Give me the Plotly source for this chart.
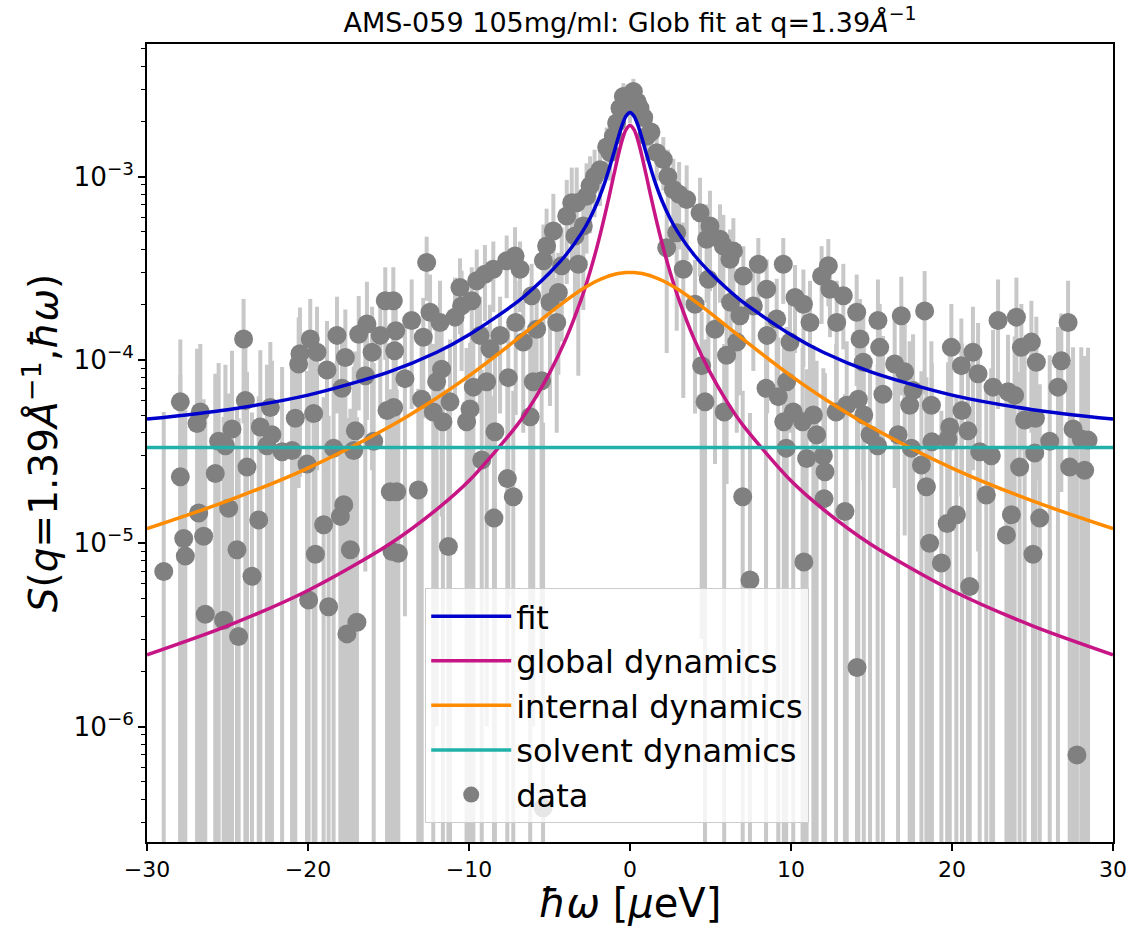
import plotly.graph_objects as go

# ---------------- data points (ħω in μeV, S in arbitrary units) ----------------
hw = [
    # ħω from -30 to -14.8
    -28.96, -27.93, -27.93, -27.72, -27.62, -26.79, -26.69, -26.89, -26.48, -26.38,
    -25.76, -25.55, -25.24, -25.13, -24.93, -24.72, -24.41, -24.31, -24.00, -23.89,
    -23.79, -23.48, -23.06, -22.96, -22.55, -22.34, -22.24, -21.61, -20.99, -20.79,
    -20.58, -20.50, -20.06, -19.96, -19.86, -19.65, -19.54, -19.44, -19.03, -18.82,
    -18.72, -18.41, -18.20, -17.99, -17.89, -17.78, -17.68, -17.58, -17.37, -17.16,
    -17.06, -16.96, -16.85, -16.44, -16.34, -16.02, -15.92, -15.51, -15.20, -15.09,
    -14.89, -14.78,
    # ħω from -14.8 to -2.9
    -14.70, -14.55, -14.62, -14.68, -14.49, -14.39, -13.98, -13.56, -13.15, -12.94,
    -12.84, -12.63, -12.42, -12.22, -12.01, -11.80, -11.70, -11.62, -11.28, -11.18,
    -10.87, -10.56, -10.46, -10.15, -9.94, -9.83, -9.73, -9.52, -9.32, -9.21,
    -9.01, -8.90, -8.70, -8.49, -8.45, -8.39, -8.07, -7.66, -7.62, -7.56,
    -7.25, -7.14, -7.10, -6.83, -6.63, -6.20, -6.11, -6.01, -5.80, -5.49,
    -5.38, -5.18, -4.97, -4.76, -4.55, -4.45, -4.24, -3.93, -3.62, -3.42,
    -3.21, -2.90,
    # elastic peak
    0.21, -0.41, 0.62, -0.62, -0.83, 1.04, -1.03, -1.24, 1.66, -1.86,
    2.07, -2.48, 2.69, -3.31, 3.52, 4.35, 4.97, 5.59, 6.42, -0.15,
    0.45, -1.45, 1.30, -2.20, 2.35, 3.05, -2.70, 0.00, 0.85,
    # ħω from 2.3 to 15
    2.28, 2.90, 4.76, 5.80, 3.31, 4.87, 6.21, 7.97, 9.52, 7.04,
    8.49, 4.04, 6.25, 5.28, 6.83, 7.66, 9.11, 10.25, 10.77, 11.18,
    11.90, 12.32, 12.42, 12.84, 13.25, 14.08, 14.29, 14.49, 6.00, 6.63,
    4.45, 4.66, 5.85, 8.45, 9.21, 9.73, 9.55, 10.14, 10.72, 11.39,
    11.59, 9.70, 10.97, 12.01, 12.11, 12.80, 13.46, 14.18, 14.52, 14.91,
    7.00, 12.05, 13.35, 10.80, 9.94, 8.52,
    # ħω from 15 to 30
    15.40, 15.51, 15.71, 15.38, 16.44, 16.85, 17.06, 16.65, 17.37, 17.58,
    17.48, 18.10, 18.30, 18.41, 18.61, 18.72, 18.75, 19.34, 19.86, 19.75,
    19.96, 19.70, 20.27, 20.58, 20.62, 20.99, 21.10, 21.30, 21.62, 21.72,
    22.13, 22.44, 22.55, 22.86, 23.38, 23.48, 23.69, 23.89, 24.00, 24.20,
    24.31, 24.51, 24.93, 25.14, 25.18, 25.24, 25.03, 25.45, 26.07, 26.58,
    26.79, 27.21, 27.31, 27.52, 28.03, 28.24, 28.45,
    # low outliers
    27.76, 14.10, 7.45, -5.40,
]

s_data = [
    7.0e-6, 5.9e-5, 2.3e-5, 1.06e-5, 8.5e-6, 1.46e-5, 5.2e-5, 4.5e-5, 1.09e-5, 4.1e-6,
    2.4e-5, 3.6e-5, 3.8e-6, 3.4e-5, 1.55e-5, 4.2e-5, 9.2e-6, 3.1e-6, 1.30e-4, 6.0e-5,
    2.6e-5, 6.6e-6, 1.34e-5, 4.3e-5, 3.4e-5, 5.5e-5, 3.9e-5, 3.15e-5, 3.2e-5, 4.8e-5,
    9.5e-5, 1.08e-4, 2.7e-5, 4.9e-6, 1.30e-4, 5.1e-5, 8.7e-6, 1.10e-4, 1.26e-5, 8.8e-5,
    4.5e-6, 3.3e-5, 1.36e-4, 1.40e-5, 7.0e-5, 1.62e-5, 1.03e-4, 3.2e-6, 9.2e-6, 3.2e-5,
    4.1e-5, 3.7e-6, 1.38e-4, 8.2e-5, 1.57e-4, 1.10e-4, 3.6e-5, 1.36e-4, 2.10e-4, 5.3e-5,
    1.91e-5, 9.0e-6,
    2.10e-4, 1.44e-4, 1.12e-4, 5.5e-5, 1.91e-5, 8.8e-6, 7.9e-5, 1.64e-4, 1.95e-5, 6.1e-5,
    1.33e-4, 3.40e-4, 1.82e-4, 5.2e-5, 7.6e-5, 1.60e-4, 8.9e-5, 4.6e-5, 9.6e-6, 5.9e-5,
    1.71e-4, 2.48e-4, 1.97e-4, 4.6e-5, 5.4e-5, 2.10e-4, 7.1e-5, 2.70e-4, 1.36e-4, 2.84e-5,
    2.93e-4, 7.6e-5, 1.15e-4, 3.12e-4, 1.37e-5, 4.05e-5, 1.36e-4, 3.47e-4, 2.25e-5, 8.0e-5,
    1.79e-5, 3.69e-4, 1.60e-4, 3.12e-4, 1.25e-4, 4.9e-5, 2.24e-4, 7.6e-5, 1.47e-4, 7.7e-5,
    3.47e-4, 4.18e-4, 2.06e-4, 5.05e-4, 1.60e-4, 2.33e-4, 3.26e-4, 6.09e-4, 7.19e-4, 4.74e-4,
    3.32e-4, 5.37e-4,
    2.91e-3, 2.73e-3, 2.36e-3, 2.36e-3, 1.96e-3, 1.66e-3, 1.66e-3, 1.35e-3, 1.35e-3, 1.09e-3,
    1.24e-3, 8.9e-4, 8.5e-4, 7.2e-4, 7.5e-4, 6.35e-4, 5.37e-4, 4.55e-4, 3.93e-4, 2.65e-3,
    2.55e-3, 1.45e-3, 1.75e-3, 1.00e-3, 1.00e-3, 8.0e-4, 7.8e-4, 2.45e-3, 2.10e-3,
    4.09e-4, 4.94e-4, 4.55e-4, 4.18e-4, 3.12e-4, 2.75e-4, 3.54e-4, 3.32e-4, 3.32e-4, 2.87e-4,
    2.43e-4, 2.01e-4, 2.06e-4, 1.47e-4, 1.74e-4, 1.97e-4, 1.67e-4, 2.19e-4, 2.01e-4, 1.60e-4,
    2.87e-4, 3.26e-4, 2.43e-4, 1.60e-4, 2.24e-4, 1.82e-4, 1.30e-4, 9.7e-5, 1.06e-4, 1.25e-4,
    9.3e-5, 5.9e-5, 5.2e-5, 7.0e-5, 6.3e-5, 7.6e-5, 4.6e-5, 5.2e-5, 4.6e-5, 5.0e-5,
    3.9e-5, 3.3e-5, 2.9e-5, 3.0e-5, 2.45e-5, 5.2e-5, 5.65e-5, 6.1e-5, 5.0e-5, 3.9e-5,
    1.79e-5, 1.75e-5, 1.49e-5, 7.9e-6, 1.25e-4, 1.36e-4,
    1.64e-4, 1.17e-4, 6.5e-5, 3.4e-5, 9.5e-5, 1.74e-4, 8.6e-5, 3.9e-5, 5.65e-5, 6.8e-5,
    3.3e-5, 2.67e-5, 1.85e-4, 2.03e-5, 1.00e-5, 5.65e-5, 3.57e-5, 7.8e-6, 4.3e-5, 3.7e-5,
    1.17e-4, 1.28e-5, 1.43e-5, 9.3e-5, 5.3e-5, 4.1e-5, 5.8e-6, 1.10e-4, 8.4e-5, 3.15e-5,
    1.83e-5, 3.0e-5, 7.1e-5, 1.64e-4, 1.11e-5, 6.7e-5, 1.43e-5, 6.4e-5, 1.71e-4, 2.6e-5,
    1.17e-4, 4.7e-5, 1.25e-4, 3.1e-5, 4.8e-5, 9.7e-5, 8.7e-6, 1.37e-5, 3.6e-5, 7.1e-5,
    9.9e-5, 1.60e-4, 2.6e-5, 4.2e-5, 3.7e-5, 2.5e-5, 3.65e-5,
    7.0e-7, 2.1e-6, 6.3e-6, 3.6e-7,
]

s_err = [
    4.5e-5, 7.0e-5, 6.0e-5, 5.0e-5, 4.5e-5, 5.0e-5, 7.0e-5, 7.0e-5, 5.0e-5, 4.5e-5,
    6.0e-5, 6.0e-5, 4.5e-5, 6.0e-5, 5.0e-5, 7.0e-5, 4.5e-5, 4.5e-5, 8.5e-5, 7.0e-5,
    6.0e-5, 4.5e-5, 5.0e-5, 7.0e-5, 6.0e-5, 7.0e-5, 6.0e-5, 6.0e-5, 6.0e-5, 7.0e-5,
    7.5e-5, 8.5e-5, 6.0e-5, 4.5e-5, 8.5e-5, 7.0e-5, 4.5e-5, 8.5e-5, 5.0e-5, 7.5e-5,
    4.5e-5, 6.0e-5, 8.5e-5, 5.0e-5, 7.5e-5, 5.0e-5, 8.5e-5, 4.5e-5, 4.5e-5, 6.0e-5,
    7.0e-5, 4.5e-5, 8.5e-5, 7.5e-5, 1.1e-4, 8.5e-5, 6.0e-5, 8.5e-5, 1.1e-4, 7.0e-5,
    5.0e-5, 4.5e-5,
    1.1e-4, 8.5e-5, 8.5e-5, 7.0e-5, 5.0e-5, 4.5e-5, 7.5e-5, 1.1e-4, 5.0e-5, 7.0e-5,
    8.5e-5, 1.3e-4, 1.1e-4, 7.0e-5, 7.5e-5, 1.1e-4, 7.5e-5, 7.0e-5, 4.5e-5, 7.0e-5,
    1.1e-4, 1.1e-4, 1.1e-4, 7.0e-5, 7.0e-5, 1.1e-4, 7.5e-5, 1.3e-4, 8.5e-5, 6.0e-5,
    1.3e-4, 7.5e-5, 8.5e-5, 1.3e-4, 5.0e-5, 7.0e-5, 8.5e-5, 1.3e-4, 6.0e-5, 7.5e-5,
    5.0e-5, 1.6e-4, 1.1e-4, 1.3e-4, 8.5e-5, 7.0e-5, 1.1e-4, 7.5e-5, 8.5e-5, 7.5e-5,
    2.0e-4, 2.5e-4, 1.5e-4, 3.0e-4, 1.2e-4, 1.5e-4, 2.0e-4, 3.5e-4, 4.0e-4, 3.0e-4,
    2.5e-4, 3.5e-4,
    5.0e-4, 5.0e-4, 5.0e-4, 5.0e-4, 4.5e-4, 4.5e-4, 4.5e-4, 4.0e-4, 4.0e-4, 4.0e-4,
    4.0e-4, 4.0e-4, 4.0e-4, 4.0e-4, 4.0e-4, 3.5e-4, 3.0e-4, 2.5e-4, 2.0e-4, 5.0e-4,
    5.0e-4, 4.0e-4, 4.5e-4, 4.0e-4, 4.0e-4, 4.0e-4, 4.0e-4, 5.0e-4, 5.0e-4,
    3.0e-4, 3.5e-4, 2.5e-4, 2.0e-4, 2.5e-4, 1.8e-4, 1.6e-4, 1.3e-4, 1.3e-4, 1.3e-4,
    1.1e-4, 1.5e-4, 1.1e-4, 1.2e-4, 1.1e-4, 1.1e-4, 1.1e-4, 1.1e-4, 1.1e-4, 1.1e-4,
    1.3e-4, 1.3e-4, 1.1e-4, 1.1e-4, 1.1e-4, 1.1e-4, 8.5e-5, 7.5e-5, 8.5e-5, 8.5e-5,
    9.0e-5, 7.0e-5, 7.0e-5, 7.5e-5, 7.0e-5, 7.5e-5, 7.0e-5, 7.0e-5, 7.0e-5, 7.0e-5,
    6.0e-5, 6.0e-5, 6.0e-5, 6.0e-5, 6.0e-5, 7.0e-5, 7.0e-5, 7.0e-5, 7.0e-5, 6.0e-5,
    5.0e-5, 5.0e-5, 5.0e-5, 4.5e-5, 8.5e-5, 8.5e-5,
    1.1e-4, 8.5e-5, 7.0e-5, 6.0e-5, 7.5e-5, 1.1e-4, 7.5e-5, 6.0e-5, 7.0e-5, 7.0e-5,
    6.0e-5, 6.0e-5, 1.2e-4, 6.0e-5, 5.0e-5, 7.0e-5, 6.0e-5, 4.5e-5, 7.0e-5, 6.0e-5,
    8.5e-5, 5.0e-5, 5.0e-5, 7.5e-5, 7.0e-5, 7.0e-5, 4.5e-5, 8.5e-5, 7.5e-5, 6.0e-5,
    5.0e-5, 6.0e-5, 7.5e-5, 1.1e-4, 5.0e-5, 7.0e-5, 5.0e-5, 7.0e-5, 1.1e-4, 6.0e-5,
    8.5e-5, 7.0e-5, 8.5e-5, 6.0e-5, 7.0e-5, 7.5e-5, 5.0e-5, 6.0e-5, 7.0e-5, 8.0e-5,
    8.0e-5, 1.1e-4, 7.0e-5, 7.5e-5, 8.0e-5, 8.0e-5, 8.0e-5,
    4.5e-5, 4.5e-5, 4.5e-5, 4.5e-5,
]

# ---------------- model curves ----------------
curve_hw = [-30, -25, -20, -15, -12, -10, -7, -6, -5, -4, -3, -2.5, -2, -1.5, -1, -0.75, -0.5, -0.25, 0,
            0.25, 0.5, 0.75, 1, 1.5, 2, 2.5, 3, 4, 5, 6, 7, 10, 12, 15, 20, 25, 30]

fit_curve = [4.75e-5, 5.35e-5, 6.42e-5, 8.57e-5, 1.10e-4, 1.37e-4, 2.07e-4, 2.46e-4, 2.98e-4, 3.72e-4,
             4.93e-4, 5.89e-4, 7.33e-4, 9.65e-4, 1.348e-3, 1.611e-3, 1.896e-3, 2.136e-3, 2.233e-3,
             2.136e-3, 1.896e-3, 1.611e-3, 1.348e-3, 9.65e-4, 7.33e-4, 5.89e-4, 4.93e-4, 3.72e-4,
             2.98e-4, 2.46e-4, 2.07e-4, 1.37e-4, 1.10e-4, 8.57e-5, 6.42e-5, 5.35e-5, 4.75e-5]

global_curve = [2.46e-6, 3.54e-6, 5.52e-6, 9.80e-6, 1.53e-5, 2.19e-5, 4.42e-5, 5.96e-5, 8.47e-5, 1.29e-4,
                2.18e-4, 2.99e-4, 4.29e-4, 6.49e-4, 1.023e-3, 1.282e-3, 1.565e-3, 1.803e-3, 1.9e-3,
                1.803e-3, 1.565e-3, 1.282e-3, 1.023e-3, 6.49e-4, 4.29e-4, 2.99e-4, 2.18e-4, 1.29e-4,
                8.47e-5, 5.96e-5, 4.42e-5, 2.19e-5, 1.53e-5, 9.80e-6, 5.52e-6, 3.54e-6, 2.46e-6]

internal_curve = [1.20e-5, 1.70e-5, 2.57e-5, 4.29e-5, 6.20e-5, 8.18e-5, 1.30e-4, 1.53e-4, 1.80e-4, 2.10e-4,
                  2.42e-4, 2.57e-4, 2.71e-4, 2.83e-4, 2.92e-4, 2.956e-4, 2.98e-4, 2.995e-4, 3.0e-4,
                  2.995e-4, 2.98e-4, 2.956e-4, 2.92e-4, 2.83e-4, 2.71e-4, 2.57e-4, 2.42e-4, 2.10e-4,
                  1.80e-4, 1.53e-4, 1.30e-4, 8.18e-5, 6.20e-5, 4.29e-5, 2.57e-5, 1.70e-5, 1.20e-5]

solvent_hw = [-30, 30]
solvent_curve = [3.33e-5, 3.33e-5]

FONT = "DejaVu Sans"

fig = go.Figure()

fig.add_trace(go.Scatter(
    x=hw, y=s_data, mode="markers", name="data", legendrank=5,
    marker=dict(color="#808080", size=19, line=dict(width=0)),
    error_y=dict(type="data", array=s_err, color="#c8c8c8", thickness=4, width=0),
))

line_specs = [
    ("fit", curve_hw, fit_curve, "#0000cd", 1),
    ("global dynamics", curve_hw, global_curve, "#c71585", 2),
    ("internal dynamics", curve_hw, internal_curve, "#ff8c00", 3),
    ("solvent dynamics", solvent_hw, solvent_curve, "#20b2aa", 4),
]
for name, xs, ys, col, rank in line_specs:
    fig.add_trace(go.Scatter(
        x=xs, y=ys, mode="lines", name=name, legendrank=rank,
        line=dict(color=col, width=3.5, shape="spline", smoothing=0.8),
    ))

fig.update_layout(
    width=1143, height=926,
    margin=dict(l=147, r=30, t=44, b=81),
    paper_bgcolor="white", plot_bgcolor="white",
    font=dict(family=FONT, color="black"),
    title=dict(
        text="AMS-059 105mg/ml: Glob fit at q=1.39<i>Å</i><sup>−1</sup>",
        x=0.5512, xanchor="center", y=0.976, yanchor="middle",
        font=dict(size=27, family=FONT, color="black"),
    ),
    showlegend=True,
    legend=dict(
        x=0.288, y=0.024, xanchor="left", yanchor="bottom",
        bgcolor="rgba(255,255,255,0.8)", bordercolor="#cccccc", borderwidth=1,
        font=dict(size=32, family=FONT, color="black"),
        traceorder="normal", itemwidth=80,
    ),
)

fig.update_xaxes(
    range=[-30, 30], tickvals=[-30, -20, -10, 0, 10, 20, 30],
    showgrid=False, zeroline=False,
    showline=True, mirror=True, linecolor="black", linewidth=1.5,
    ticks="outside", ticklen=7, tickwidth=1.5, tickcolor="black",
    tickfont=dict(size=22, family=FONT),
    title=dict(text="<i>ħω</i> [<i>μ</i>eV]", font=dict(size=40, family=FONT), standoff=4),
)

fig.update_yaxes(
    type="log", range=[-6.63, -2.277], dtick=1, exponentformat="power",
    showgrid=False, zeroline=False,
    showline=True, mirror=True, linecolor="black", linewidth=1.5,
    ticks="outside", ticklen=7, tickwidth=1.5, tickcolor="black",
    tickfont=dict(size=21, family=FONT),
    minor=dict(ticks="outside", ticklen=4, tickwidth=1, tickcolor="black", dtick="D1", showgrid=False),
    title=dict(text="<i>S</i>(<i>q</i>=1.39<i>Å</i><sup>−1</sup>,<i>ħω</i>)",
               font=dict(size=39, family=FONT), standoff=4),
)

fig.write_html("out.html")
